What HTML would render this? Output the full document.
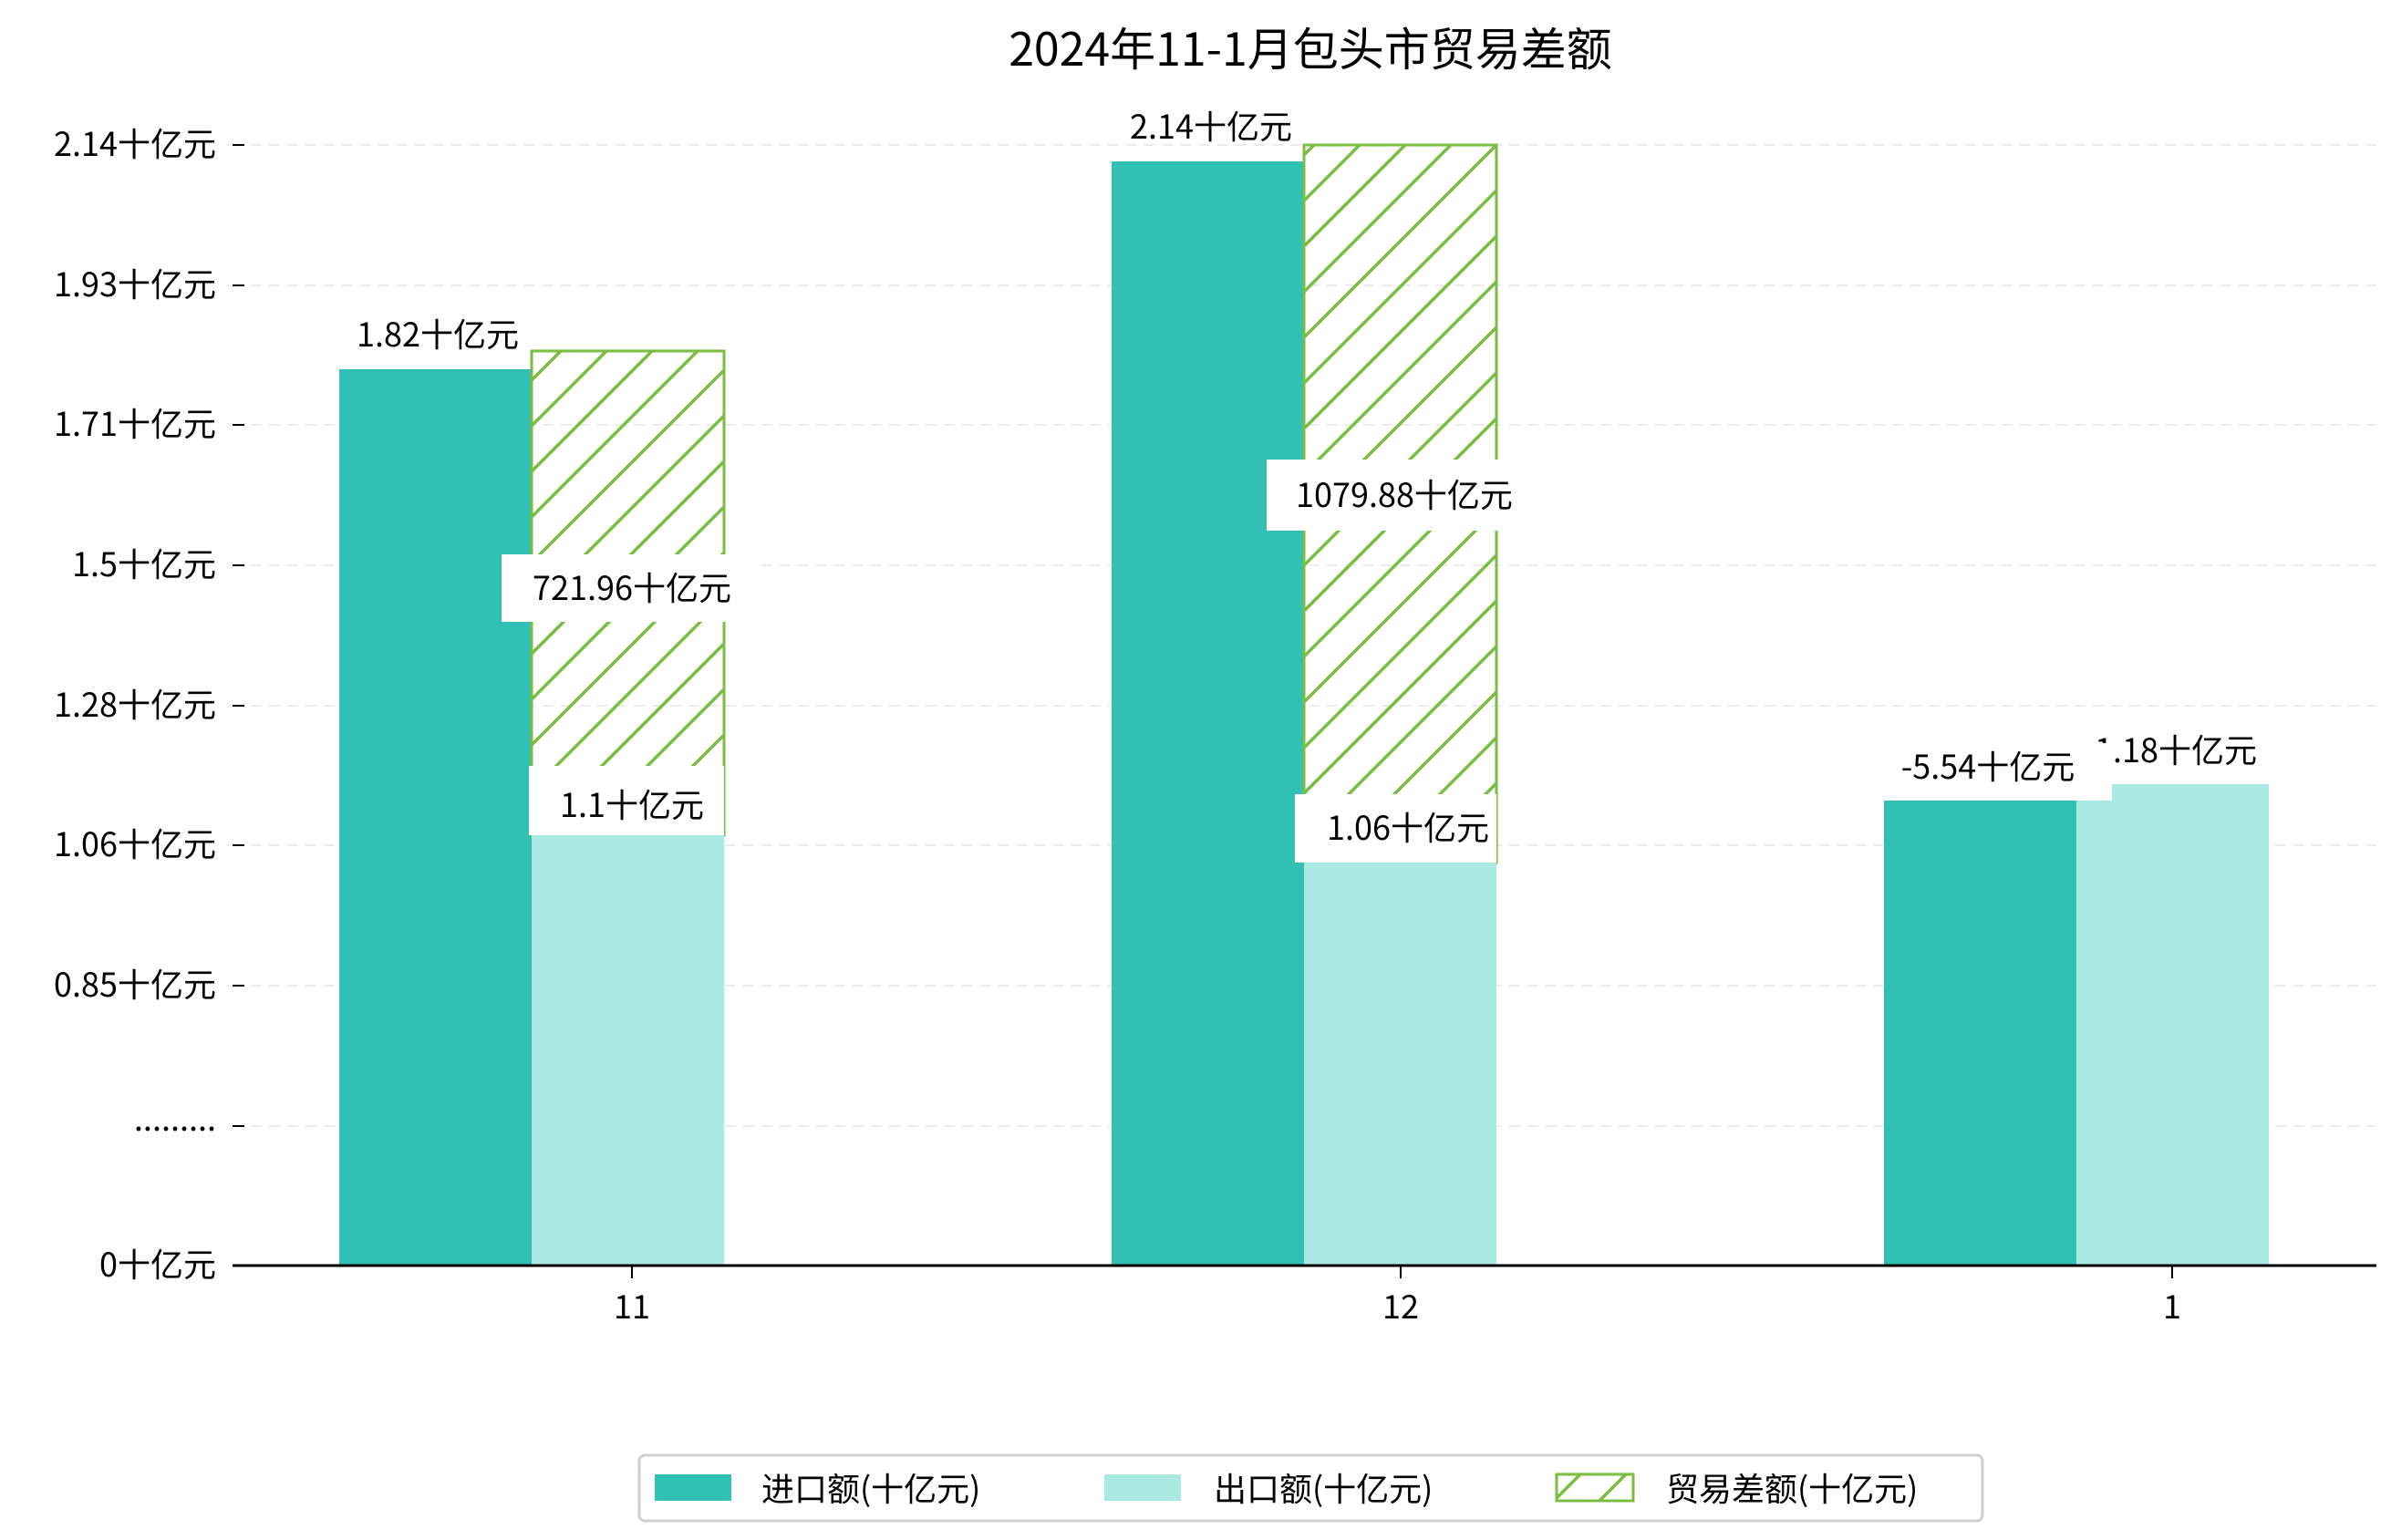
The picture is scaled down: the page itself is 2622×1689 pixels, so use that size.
<!DOCTYPE html>
<html><head><meta charset="utf-8"><style>
html,body{margin:0;padding:0;background:#fff;}
svg{display:block;}
text{font-family:"WenQuanYi Zen Hei","Noto Sans CJK SC",sans-serif;fill:#000;}
</style></head><body>
<svg width="2622" height="1689" viewBox="0 0 2622 1689" xmlns="http://www.w3.org/2000/svg">
<defs>
<pattern id="h" patternUnits="userSpaceOnUse" width="50" height="50">
<path d="M-5,55 L55,-5 M-5,5 L5,-5 M45,55 L55,45" stroke="#7bbd42" stroke-width="3.5" fill="none"/>
</pattern>
</defs>
<text x="1437" y="72" font-size="50" text-anchor="middle">2024年11-1月包头市贸易差额</text>
<g stroke="#ececec" stroke-width="2" stroke-dasharray="12,8">
<line x1="255" x2="2606" y1="159" y2="159"/><line x1="255" x2="2606" y1="313" y2="313"/>
<line x1="255" x2="2606" y1="466" y2="466"/><line x1="255" x2="2606" y1="620" y2="620"/>
<line x1="255" x2="2606" y1="774" y2="774"/><line x1="255" x2="2606" y1="927" y2="927"/>
<line x1="255" x2="2606" y1="1081" y2="1081"/><line x1="255" x2="2606" y1="1235" y2="1235"/>
</g>
<g stroke="#000" stroke-width="2">
<line x1="255" x2="268" y1="159" y2="159"/><line x1="255" x2="268" y1="313" y2="313"/>
<line x1="255" x2="268" y1="466" y2="466"/><line x1="255" x2="268" y1="620" y2="620"/>
<line x1="255" x2="268" y1="774" y2="774"/><line x1="255" x2="268" y1="927" y2="927"/>
<line x1="255" x2="268" y1="1081" y2="1081"/><line x1="255" x2="268" y1="1235" y2="1235"/>
<line x1="693" x2="693" y1="1388" y2="1402"/><line x1="1536" x2="1536" y1="1388" y2="1402"/><line x1="2382" x2="2382" y1="1388" y2="1402"/>
</g>
<g font-size="36" text-anchor="end">
<text x="237" y="171">2.14十亿元</text><text x="237" y="325">1.93十亿元</text>
<text x="237" y="478">1.71十亿元</text><text x="237" y="632">1.5十亿元</text>
<text x="237" y="786">1.28十亿元</text><text x="237" y="939">1.06十亿元</text>
<text x="237" y="1093">0.85十亿元</text><text x="237" y="1240">.........</text>
<text x="237" y="1400">0十亿元</text>
</g>
<rect x="372" y="405" width="211" height="983" fill="#32c0b4"/>
<rect x="583" y="385" width="211" height="531" fill="url(#h)" stroke="#7bbd42" stroke-width="3"/>
<rect x="583" y="916" width="211" height="472" fill="#aae8e2"/>
<rect x="1219" y="177" width="211" height="1211" fill="#32c0b4"/>
<rect x="1430" y="159" width="211" height="787" fill="url(#h)" stroke="#7bbd42" stroke-width="3"/>
<rect x="1430" y="946" width="211" height="442" fill="#aae8e2"/>
<rect x="2066" y="878" width="211" height="510" fill="#32c0b4"/>
<rect x="2277" y="860" width="211" height="528" fill="#aae8e2"/>
<line x1="255" x2="2606" y1="1388" y2="1388" stroke="#000" stroke-width="3"/>
<g font-size="36" text-anchor="middle">
<text x="480" y="380">1.82十亿元</text>
<rect x="550" y="608" width="286" height="74" fill="#fff"/>
<text x="693" y="658">721.96十亿元</text>
<rect x="580" y="840" width="214" height="76" fill="#fff"/>
<text x="693" y="896">1.1十亿元</text>
<text x="1328" y="152">2.14十亿元</text>
<rect x="1389" y="504" width="294" height="78" fill="#fff"/>
<text x="1540" y="556">1079.88十亿元</text>
<rect x="1420" y="871" width="221" height="75" fill="#fff"/>
<text x="1544" y="921">1.06十亿元</text>
<text x="2386" y="836">1.18十亿元</text>
<rect x="2064" y="815" width="252" height="63" fill="#fff"/>
<text x="2180" y="854">-5.54十亿元</text>
<text x="693" y="1446">11</text><text x="1536" y="1446">12</text><text x="2382" y="1446">1</text>
</g>
<rect x="701" y="1596" width="1473" height="72" rx="6" fill="#fff" stroke="#d0d0d0" stroke-width="3"/>
<rect x="718" y="1617" width="84" height="29" fill="#32c0b4"/>
<rect x="1211" y="1617" width="84" height="29" fill="#aae8e2"/>
<rect x="1707" y="1617" width="84" height="29" fill="url(#h)" stroke="#7bbd42" stroke-width="3"/>
<g font-size="36">
<text x="835" y="1646">进口额(十亿元)</text>
<text x="1331" y="1646">出口额(十亿元)</text>
<text x="1827" y="1646">贸易差额(十亿元)</text>
</g>
</svg>
</body></html>
